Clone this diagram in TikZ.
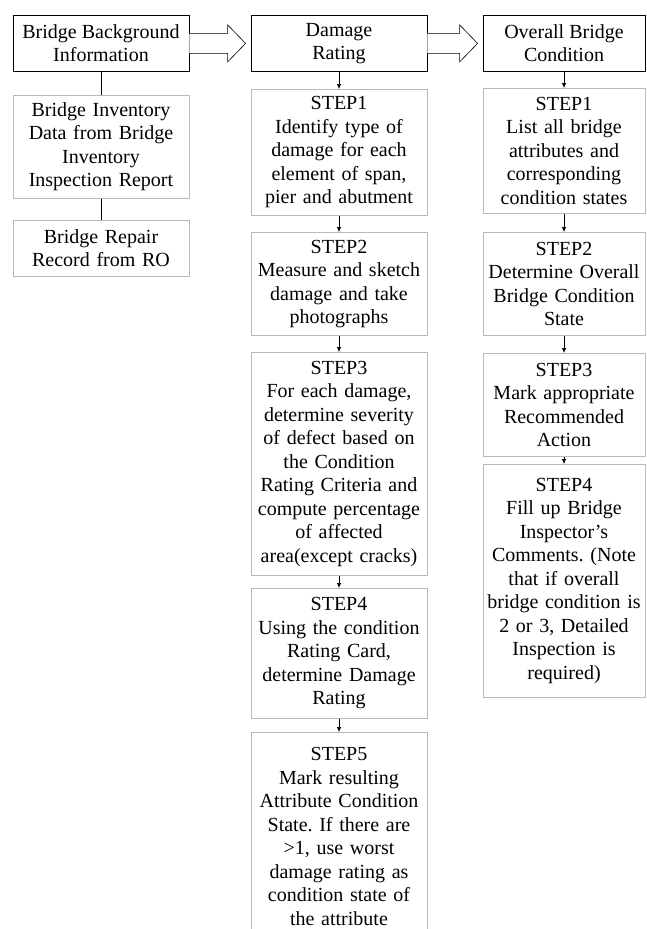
\documentclass[tikz,border=0pt]{standalone}
\usepackage{fontspec}
\setmainfont{Liberation Serif}
\usetikzlibrary{arrows,arrows.meta,calc,positioning}
\frenchspacing

\tikzset{
  headbox/.style={draw=black, line width=0.8pt, minimum width=176pt, minimum height=56pt,
    align=center, anchor=north, inner sep=2pt},
  stepbox/.style={draw=gray!55, line width=0.6pt, minimum width=176pt, text width=170pt,
    align=center, anchor=north, inner sep=3pt},
  narrow/.style={minimum width=162pt, text width=156pt},
  link/.style={-{Latex[length=5pt,width=4.5pt]}, line width=0.7pt},
  tie/.style={line width=0.6pt},
  bigarrow/.style={draw=black, line width=0.6pt, fill=white},
}

% hollow arrow between two header boxes
\newcommand{\hollowarrow}[2]{%
  \draw[bigarrow] ($(#1.east)+(0,-10)$) -- ($(#2.west)+(-23,-10)$) -- ($(#2.west)+(-23,-18.5)$)
    -- ($(#2.west)+(-5,0)$) -- ($(#2.west)+(-23,18.5)$) -- ($(#2.west)+(-23,10)$)
    -- ($(#1.east)+(0,10)$);}

\begin{document}
\begin{tikzpicture}[x=1pt,y=-1pt,font={\fontsize{20}{23.5}\selectfont}]
  \clip (0,0) rectangle (646,929);

  % Background information
  \node[headbox] (bgHead) at (101,15) {Bridge Background\\Information};
  \node[stepbox, minimum height=103pt] (bgInv) at (101,95)
    {Bridge Inventory\\Data from Bridge\\Inventory\\Inspection Report};
  \node[stepbox, minimum height=56pt] (bgRep) at (101,220) {Bridge Repair\\Record from RO};
  \draw[tie] (bgHead) -- (bgInv);
  \draw[tie] (bgInv) -- (bgRep);

  % Damage rating
  \node[headbox] (drHead) at (339,15) {Damage\\Rating};
  \node[stepbox, minimum height=126pt] (drOne) at (339,89)
    {STEP1\\Identify type of\\damage for each\\element of span,\\pier and abutment};
  \node[stepbox, minimum height=103pt] (drTwo) at (339,232)
    {STEP2\\Measure and sketch\\damage and take\\photographs};
  \node[stepbox, minimum height=223pt] (drThree) at (339,352)
    {STEP3\\For each damage,\\determine severity\\of defect based on\\the Condition\\Rating Criteria and\\compute percentage\\of affected\\area(except cracks)};
  \node[stepbox, minimum height=130pt] (drFour) at (339,588)
    {STEP4\\Using the condition\\Rating Card,\\determine Damage\\Rating};
  \node[stepbox, minimum height=208pt] (drFive) at (339,732)
    {STEP5\\Mark resulting\\Attribute Condition\\State. If there are\\>1, use worst\\damage rating as\\condition state of\\the attribute};
  \draw[link] (drHead) -- (drOne);
  \draw[link] (drOne) -- (drTwo);
  \draw[link] (drTwo) -- (drThree);
  \draw[link] (drThree) -- (drFour);
  \draw[link] (drFour) -- (drFive);

  % Overall bridge condition
  \node[headbox, minimum width=162pt] (ocHead) at (564,15) {Overall Bridge\\Condition};
  \node[stepbox, narrow, minimum height=125pt] (ocOne) at (564,88)
    {STEP1\\List all bridge\\attributes and\\corresponding\\condition states};
  \node[stepbox, narrow, minimum height=103pt] (ocTwo) at (564,232)
    {STEP2\\Determine Overall\\Bridge Condition\\State};
  \node[stepbox, narrow, minimum height=103pt] (ocThree) at (564,353)
    {STEP3\\Mark appropriate\\Recommended\\Action};
  \node[stepbox, narrow, minimum height=233pt] (ocFour) at (564,464)
    {STEP4\\Fill up Bridge\\Inspector’s\\Comments. (Note\\that if overall\\bridge condition is\\2 or 3, Detailed\\Inspection is\\required)};
  \draw[link] (ocHead) -- (ocOne);
  \draw[link] (ocOne) -- (ocTwo);
  \draw[link] (ocTwo) -- (ocThree);
  \draw[link] (ocThree) -- (ocFour);

  % Hollow arrows between headers
  \hollowarrow{bgHead}{drHead}
  \hollowarrow{drHead}{ocHead}
\end{tikzpicture}
\end{document}
